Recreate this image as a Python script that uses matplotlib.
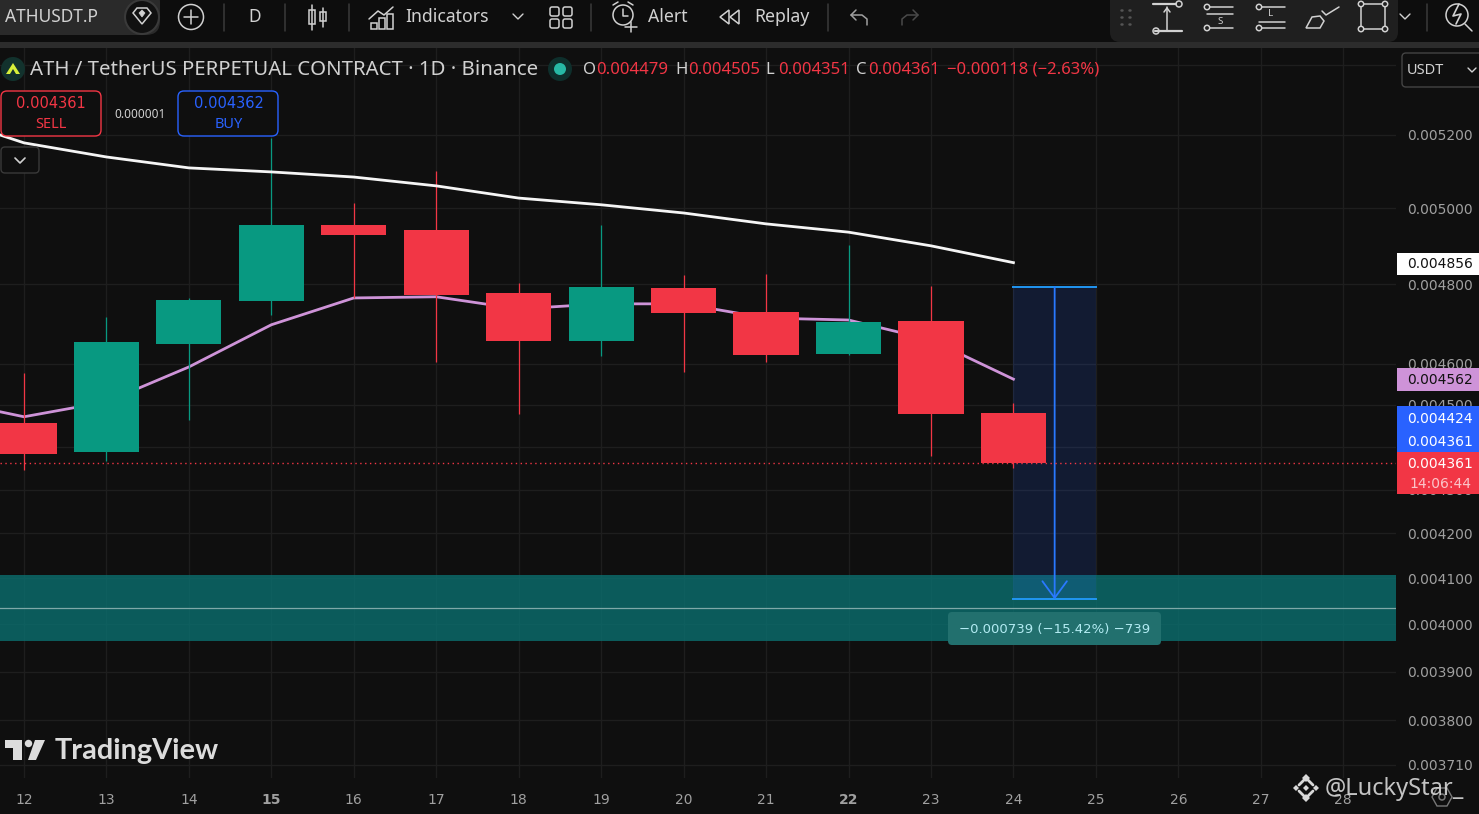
import matplotlib
matplotlib.use('Agg')
import matplotlib.pyplot as plt
from matplotlib.patches import Rectangle, FancyBboxPatch, Circle, Polygon
from matplotlib.ticker import NullLocator

# ATHUSDT daily candles
days = [12, 13, 14, 15, 16, 17, 18, 19, 20, 21, 22, 23, 24]
opens = [0.004456, 0.004388, 0.004649, 0.004757, 0.004955, 0.004942, 0.004778, 0.004656, 0.004791, 0.004729, 0.004624, 0.004707, 0.004479]
highs = [0.004577, 0.004717, 0.004765, 0.005192, 0.005014, 0.005101, 0.004804, 0.004955, 0.004824, 0.004827, 0.004902, 0.004796, 0.004505]
lows = [0.004345, 0.004366, 0.004463, 0.004722, 0.004765, 0.004604, 0.004478, 0.004619, 0.004580, 0.004604, 0.004622, 0.004378, 0.004351]
closes = [0.004383, 0.004654, 0.004760, 0.004955, 0.004929, 0.004773, 0.004656, 0.004793, 0.004727, 0.004622, 0.004704, 0.004478, 0.004361]

ma_days = [11.71, 12, 13, 14, 15, 16, 17, 18, 19, 20, 21, 22, 23, 24]
ma_white = [0.005200, 0.005178, 0.005139, 0.005109, 0.005098, 0.005084, 0.005060, 0.005027, 0.005009, 0.004987, 0.004958, 0.004936, 0.004900, 0.004856]
ma_pink = [0.004483, 0.004471, 0.004507, 0.004592, 0.004697, 0.004765, 0.004768, 0.004737, 0.004750, 0.004750, 0.004714, 0.004709, 0.004659, 0.004562]

price_ticks = [0.0054, 0.0052, 0.0050, 0.0048, 0.0046, 0.0045, 0.0044, 0.0043, 0.0042, 0.0041, 0.0040, 0.0039, 0.0038, 0.00371]
# 0.0054 and 0.0044 sit under the USDT box and the blue tag
price_labels = ['', '0.005200', '0.005000', '0.004800', '0.004600', '0.004500', '', '0.004300', '0.004200', '0.004100', '0.004000', '0.003900', '0.003800', '0.003710']
date_ticks = [12, 13, 14, 15, 16, 17, 18, 19, 20, 21, 22, 23, 24, 25, 26, 27, 28]
bold_dates = [15, 22]

zone_top = 0.004108
zone_bottom = 0.003965
zone_mid = 0.004036
measure_top = 0.004793
measure_bottom = 0.004054
measure_days = [24.0, 24.5, 25.0]
last_price = 0.004361

BG = '#0f0f0f'
GRID = '#1e1e1e'
RED = '#f23645'
GREEN = '#089981'
BLUE = '#2962ff'
UI = '#d1d1d1'
SANS = 'Noto Sans'

plt.rcParams['font.family'] = ['DejaVu Sans']

W, H = 1479, 814
fig = plt.figure(figsize=(W / 100, H / 100), dpi=100, facecolor=BG)
ax = fig.add_axes([0, (H - 778) / H, 1396 / W, (778 - 47) / H], facecolor=BG)

ax.set_yscale('log')
ax.set_ylim(0.003684, 0.005451)
ax.set_xlim(11.709, 28.64)
for s in ax.spines.values():
    s.set_visible(False)
ax.yaxis.tick_right()
ax.set_yticks(price_ticks)
ax.set_yticklabels(price_labels)
ax.yaxis.set_minor_locator(NullLocator())
ax.set_xticks(date_ticks)
ax.set_xticklabels([str(d) for d in date_ticks])
ax.tick_params(axis='y', length=0, pad=8, labelsize=10, labelcolor='#a0a0a0')
ax.tick_params(axis='x', length=0, pad=11, labelsize=10, labelcolor='#a0a0a0')
for lab, d in zip(ax.get_xticklabels(), date_ticks):
    if d in bold_dates:
        lab.set_fontweight('bold')
ax.grid(True, color=GRID, linewidth=1)
ax.set_axisbelow(True)

# sell zone and the measure box
ax.axhspan(zone_bottom, zone_top, color='#0a6f6f', alpha=0.8, linewidth=0, zorder=1)
ax.axhline(zone_mid, color='#7fa9a8', linewidth=0.9, zorder=1.5)
ax.fill_between(measure_days, measure_bottom, measure_top, color=BLUE, alpha=0.15, linewidth=0, zorder=2)
ax.plot([measure_days[0], measure_days[2]], [measure_top, measure_top], color='#2196f3', linewidth=1.4, zorder=2.5)
ax.plot([measure_days[0], measure_days[2]], [measure_bottom, measure_bottom], color='#2196f3', linewidth=1.4, zorder=2.5)
ax.annotate('', xy=(measure_days[1], measure_bottom), xytext=(measure_days[1], measure_top),
            arrowprops=dict(arrowstyle='->,head_length=0.75,head_width=0.55', color='#2979ff', linewidth=1.3,
                            shrinkA=0, shrinkB=0, mutation_scale=16), zorder=2.6)

ax.plot(ma_days, ma_white, color='#f5f5f5', linewidth=2, zorder=6)
ax.plot(ma_days, ma_pink, color='#ce93d8', linewidth=2, zorder=3)
ax.axhline(last_price, color=RED, linewidth=1, linestyle=(0, (1, 2.5)), zorder=3)

for d, o, h, l, c in zip(days, opens, highs, lows, closes):
    col = GREEN if c >= o else RED
    ax.plot([d, d], [l, h], color=col, linewidth=0.9, zorder=4, solid_capstyle='butt')
    ax.bar(d, abs(c - o), bottom=min(o, c), width=0.79, color=col, linewidth=0, zorder=5)

# overlay in pixel coords for the tradingview ui
ui = fig.add_axes([0, 0, 1, 1], facecolor='none')
ui.set_xlim(0, W)
ui.set_ylim(H, 0)
ui.axis('off')


def txt(x, y, s, color=UI, size=12, ha='left', family=SANS, **kw):
    # noto sits a bit high when centred
    if family == SANS:
        y = y + 1.5
    ui.text(x, y, s, color=color, fontsize=size, ha=ha, va='center', family=family, **kw)


def line(xs, ys, color=UI, lw=1.1, **kw):
    ui.plot(xs, ys, color=color, linewidth=lw, solid_capstyle='round', **kw)


def box(x0, y0, x1, y1, face='none', edge='none', lw=1, r=4, z=3):
    ui.add_patch(FancyBboxPatch((x0 + r, y0 + r), x1 - x0 - 2 * r, y1 - y0 - 2 * r,
                                boxstyle='round,pad=%d,rounding_size=%d' % (r, r),
                                facecolor=face, edgecolor=edge, linewidth=lw, zorder=z))


def circ(x, y, r, face='none', edge=UI, lw=1.1, z=4):
    ui.add_patch(Circle((x, y), r, facecolor=face, edgecolor=edge, linewidth=lw, zorder=z))


# top toolbar
ui.add_patch(Rectangle((0, 0), W, 42, facecolor='#0d0d0d', edgecolor='none', zorder=1))
ui.add_patch(Rectangle((0, 42), W, 5.5, facecolor='#2c2c2c', edgecolor='none', zorder=1))
box(-20, -12, 160, 35, face='#2a2a2a', r=14, z=2)
txt(5, 16, 'ATHUSDT.P', size=12.5, fontweight='semibold', zorder=5)
circ(142, 17, 17, face='#111111', edge='#3a3a3a', lw=1.5)
ui.add_patch(Polygon([(133, 13), (137, 8), (147, 8), (151, 13), (142, 24)], closed=True, fill=False, edgecolor=UI, linewidth=1.1, zorder=5))
ui.add_patch(Polygon([(139, 13), (142, 10), (145, 13), (142, 17)], closed=True, facecolor=UI, edgecolor=UI, linewidth=0.5, zorder=5))
circ(191, 17, 12.5)
line([184, 198], [17, 17])
line([191, 191], [10, 24])
for sx in [224, 285, 349, 591]:
    line([sx, sx], [4, 31], color='#3a3a3a')
txt(255, 16, 'D', size=12.5, ha='center')
line([312, 312], [5, 30])
ui.add_patch(Rectangle((309, 10), 6, 14, fill=False, edgecolor=UI, linewidth=1.1))
line([323, 323], [8, 27])
ui.add_patch(Rectangle((320, 12), 6, 9, fill=False, edgecolor=UI, linewidth=1.1))
# indicators icon
line([369, 378, 384, 393], [19, 11, 15, 7])
for bx, bh in [(371, 6), (379, 11), (387, 15)]:
    ui.add_patch(Rectangle((bx, 29 - bh), 6, bh, fill=False, edgecolor=UI, linewidth=1.1))
txt(405, 16, 'Indicators', size=12.7)
line([513, 518, 523], [14, 19, 14], lw=1)
for gx in [550, 563]:
    for gy in [7, 19]:
        box(gx, gy, gx + 9, gy + 9, edge=UI, lw=1.1, r=2)
# alert icon
circ(623, 15, 10)
line([623, 623, 628], [9, 16, 16])
line([613, 618], [5, 2])
line([633, 628], [5, 2])
line([625, 637], [27, 27])
line([631, 631], [22, 32])
txt(648, 16, 'Alert', size=12.7)
# replay icon
ui.add_patch(Polygon([(729, 10), (720, 17), (729, 24)], closed=True, fill=False, edgecolor=UI, linewidth=1.1))
ui.add_patch(Polygon([(739, 10), (730, 17), (739, 24)], closed=True, fill=False, edgecolor=UI, linewidth=1.1))
txt(754, 16, 'Replay', size=12.7)
line([828, 828], [4, 31], color='#3a3a3a')
line([856, 851, 856], [10, 15, 20], color='#a0a0a0')
line([851, 862, 867, 867], [15, 15, 19, 25], color='#a0a0a0')
line([913, 918, 913], [10, 15, 20], color='#4a4a4a')
line([918, 907, 902, 902], [15, 15, 19, 25], color='#4a4a4a')

# floating drawing toolbar
box(1110, -10, 1398, 42, face='#1f1f1f', r=10, z=2)
for gx in [1121, 1129]:
    for gy in [10, 17, 24]:
        line([gx, gx + 0.5], [gy, gy], color='#555555', lw=1.8, zorder=4)
line([1153, 1176], [4, 4], lw=1.6, zorder=4)
line([1155, 1182], [31, 31], lw=1.6, zorder=4)
line([1167, 1167], [7, 30], zorder=4)
line([1164, 1167, 1170], [12, 8, 12], zorder=4)
circ(1179, 4, 3)
circ(1156, 31, 3)
# short and long position tools
circ(1207, 7, 2.7)
circ(1207, 28, 2.7)
line([1210, 1233], [7, 7], zorder=4)
line([1207, 1233], [14, 14], zorder=4)
line([1210, 1233], [28, 28], zorder=4)
txt(1220, 19.5, 'S', size=7, ha='center', zorder=4)
circ(1259, 7, 2.7)
circ(1259, 28, 2.7)
line([1262, 1285], [7, 7], zorder=4)
line([1259, 1285], [22, 22], zorder=4)
line([1262, 1285], [28, 28], zorder=4)
txt(1271, 12.5, 'L', size=7, ha='center', zorder=4)
# brush
ui.add_patch(Polygon([(1306, 28), (1312, 17), (1320, 16), (1324, 21), (1320, 28)], closed=True, fill=False, edgecolor=UI, linewidth=1.1, zorder=4))
line([1322, 1326, 1339], [11, 15, 7], zorder=4)
ui.add_patch(Rectangle((1361, 4), 24, 25, fill=False, edgecolor=UI, linewidth=1.1, zorder=4))
for cx, cy in [(1361, 4), (1385, 4), (1361, 29), (1385, 29)]:
    circ(cx, cy, 2.7, face='#1f1f1f')
line([1400, 1405, 1410], [14, 19, 14], lw=1)
line([1427, 1427], [4, 31], color='#3a3a3a')
circ(1457, 15, 11)
line([1465, 1472], [24, 31])
line([1459, 1453, 1461, 1456], [4, 16, 14, 24], lw=1.2, zorder=5)

# legend row
circ(13, 69, 12, face='#12322d', edge='none')
ui.add_patch(Polygon([(6, 74), (13, 63), (20, 74), (16, 74), (13, 69), (10, 74)], closed=True, facecolor='#d7f03a', edgecolor='none', zorder=5))
txt(30, 68.5, 'ATH / TetherUS PERPETUAL CONTRACT · 1D · Binance', size=14.7)
circ(560, 69, 12, face='#0e2f2c', edge='none')
circ(560, 69, 6, face='#27b8a5', edge='none', z=5)
for lx, ly, vx, v in [(583, 'O', 596, '0.004479'), (675, 'H', 688, '0.004505'), (765, 'L', 778, '0.004351'), (856, 'C', 868, '0.004361')]:
    txt(lx, 68.5, ly, size=12)
    txt(vx, 68.5, v, color=RED, size=12)
txt(947, 68.5, '−0.000118 (−2.63%)', color=RED, size=12)

# sell / buy boxes
box(1, 91, 101, 136, face=BG, edge=RED, lw=1, r=6)
txt(51, 104, '0.004361', color=RED, size=10.5, ha='center', family='DejaVu Sans', zorder=5)
txt(51, 123, 'SELL', color=RED, size=10.5, ha='center', zorder=5)
txt(140, 113, '0.000001', color=UI, size=8.5, ha='center', zorder=5)
box(178, 91, 278, 136, face=BG, edge=BLUE, lw=1, r=6)
txt(229, 104, '0.004362', color=BLUE, size=10.5, ha='center', family='DejaVu Sans', zorder=5)
txt(229, 123, 'BUY', color=BLUE, size=10.5, ha='center', zorder=5)
box(1, 147, 39, 173, face=BG, edge='#3a3a3a', lw=1, r=4)
line([15, 20, 25], [158, 163, 158], lw=1.2, zorder=5)

# usdt selector
box(1402, 53, 1490, 87, face=BG, edge='#444444', lw=1, r=4)
txt(1407, 69.5, 'USDT', size=10.5, zorder=5)
line([1468, 1472, 1476], [68, 72, 68], lw=1, zorder=5)

# price tags on the right scale
ui.add_patch(Rectangle((1397, 253), 82, 22, facecolor='#ffffff', edgecolor='none', zorder=3))
txt(1440, 264.5, '0.004856', color='#111111', size=10, ha='center', family='DejaVu Sans', zorder=4)
ui.add_patch(Rectangle((1397, 368), 82, 23, facecolor='#ce93d8', edgecolor='none', zorder=3))
txt(1440, 380.5, '0.004562', color='#111111', size=10, ha='center', family='DejaVu Sans', zorder=4)
ui.add_patch(Rectangle((1397, 406), 82, 46, facecolor=BLUE, edgecolor='none', zorder=3))
txt(1440, 419, '0.004424', color='#ffffff', size=10, ha='center', family='DejaVu Sans', zorder=4)
txt(1440, 442, '0.004361', color='#ffffff', size=10, ha='center', family='DejaVu Sans', zorder=4)
ui.add_patch(Rectangle((1397, 452), 82, 42, facecolor=RED, edgecolor='none', zorder=3))
txt(1440, 464.5, '0.004361', color='#ffffff', size=10, ha='center', family='DejaVu Sans', zorder=4)
txt(1440, 484, '14:06:44', color='#fbc4c9', size=10, ha='center', family='DejaVu Sans', zorder=4)

# measure label
box(948, 612, 1161, 645, face='#22706e', r=4)
txt(1055, 629, '−0.000739 (−15.42%) −739', color='#b2ebf2', size=9.5, ha='center', family='DejaVu Sans', zorder=5)

# tradingview mark
ui.add_patch(Polygon([(5, 740), (22, 740), (22, 760), (13, 760), (13, 748), (5, 748)], closed=True, facecolor='#dcdcdc', edgecolor='none'))
circ(28.5, 743.5, 3.7, face='#dcdcdc', edge='none')
ui.add_patch(Polygon([(35, 740), (45, 740), (36, 760), (28, 760)], closed=True, facecolor='#dcdcdc', edgecolor='none'))
txt(55, 751, 'TradingView', color='#dcdcdc', size=20.8, fontweight='bold', family='Lato')

# settings hexagon, mostly off the bottom edge
ui.add_patch(Polygon([(1432, 797), (1437, 788), (1447, 788), (1452, 797), (1447, 806), (1437, 806)], closed=True, fill=False, edgecolor='#777777', linewidth=1, zorder=5))
circ(1442, 797, 3, edge='#777777')

# author watermark
for cx, cy, r in [(1306, 778, 4), (1306, 798, 4), (1296, 788, 3), (1316, 788, 3), (1306, 788, 3)]:
    ui.add_patch(Polygon([(cx - r, cy), (cx, cy - r), (cx + r, cy), (cx, cy + r)], closed=True, facecolor='#d8d8d8', edgecolor='none', zorder=6))
line([1299, 1306, 1313], [785, 778, 785], color='#d8d8d8', lw=2, zorder=6)
line([1299, 1306, 1313], [791, 798, 791], color='#d8d8d8', lw=2, zorder=6)
txt(1325, 787.5, '@LuckyStar_', color='#d8d8d8', size=17, alpha=0.9, zorder=6)

fig.savefig('out.png', dpi=100, facecolor=BG)
